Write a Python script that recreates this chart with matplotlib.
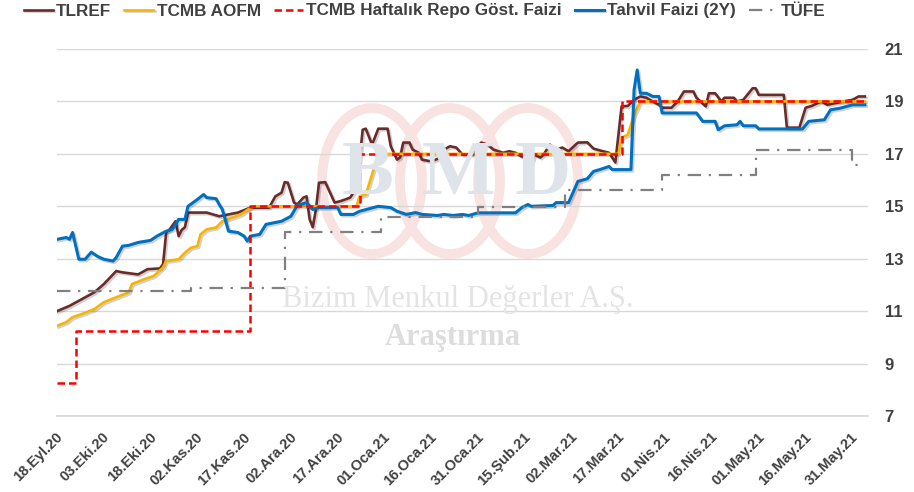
import pandas as pd
import matplotlib
matplotlib.use("Agg")
import matplotlib.pyplot as plt
import matplotlib.patheffects as pe
import matplotlib.transforms as mtransforms
from matplotlib.patches import Ellipse

plt.rcParams['font.family'] = ['Liberation Sans', 'DejaVu Sans']

# --- veriler ---
tlref = [
    ("2020-09-18", 11.0), ("2020-09-22", 11.2), ("2020-09-26", 11.46), ("2020-09-30", 11.72),
    ("2020-10-03", 12.03), ("2020-10-07", 12.53), ("2020-10-09", 12.48), ("2020-10-14", 12.4),
    ("2020-10-17", 12.6), ("2020-10-21", 12.63), ("2020-10-22", 12.79), ("2020-10-23", 14.0),
    ("2020-10-24", 14.1), ("2020-10-26", 14.43), ("2020-10-27", 13.86), ("2020-10-28", 14.1),
    ("2020-10-29", 14.2), ("2020-10-30", 14.76), ("2020-11-05", 14.76), ("2020-11-09", 14.62),
    ("2020-11-15", 14.76), ("2020-11-19", 14.95), ("2020-11-25", 14.95), ("2020-11-27", 15.38),
    ("2020-11-29", 15.52), ("2020-11-30", 15.92), ("2020-12-01", 15.9), ("2020-12-03", 15.14),
    ("2020-12-04", 15.07), ("2020-12-06", 15.33), ("2020-12-07", 15.38), ("2020-12-08", 14.5),
    ("2020-12-09", 14.2), ("2020-12-10", 14.88), ("2020-12-11", 15.9), ("2020-12-13", 15.92),
    ("2020-12-16", 15.14), ("2020-12-18", 15.2), ("2020-12-21", 15.33), ("2020-12-22", 15.52),
    ("2020-12-23", 15.64), ("2020-12-25", 17.92), ("2020-12-26", 17.96), ("2020-12-28", 17.35),
    ("2020-12-30", 17.96), ("2021-01-02", 17.96), ("2021-01-03", 17.29), ("2021-01-05", 16.78),
    ("2021-01-06", 16.86), ("2021-01-07", 17.43), ("2021-01-09", 17.43), ("2021-01-10", 17.16),
    ("2021-01-12", 17.04), ("2021-01-13", 16.78), ("2021-01-16", 16.71), ("2021-01-19", 16.86),
    ("2021-01-20", 17.16), ("2021-01-22", 17.29), ("2021-01-24", 17.24), ("2021-01-26", 16.97),
    ("2021-01-29", 16.97), ("2021-02-01", 17.43), ("2021-02-03", 17.35), ("2021-02-05", 17.16),
    ("2021-02-08", 17.04), ("2021-02-10", 17.1), ("2021-02-12", 17.04), ("2021-02-14", 16.9),
    ("2021-02-16", 16.78), ("2021-02-17", 16.59), ("2021-02-18", 16.97), ("2021-02-20", 16.86),
    ("2021-02-21", 16.97), ("2021-02-23", 17.35), ("2021-02-25", 17.16), ("2021-02-27", 17.24),
    ("2021-03-01", 17.1), ("2021-03-04", 17.43), ("2021-03-07", 17.44), ("2021-03-09", 17.2),
    ("2021-03-12", 17.1), ("2021-03-14", 17.04), ("2021-03-16", 16.67), ("2021-03-18", 18.81),
    ("2021-03-20", 18.83), ("2021-03-22", 19.06), ("2021-03-24", 19.19), ("2021-03-26", 19.14),
    ("2021-03-28", 19.0), ("2021-03-30", 18.87), ("2021-03-31", 18.76), ("2021-04-03", 18.76),
    ("2021-04-05", 19.0), ("2021-04-07", 19.38), ("2021-04-10", 19.38), ("2021-04-11", 19.14),
    ("2021-04-14", 18.81), ("2021-04-15", 19.31), ("2021-04-17", 19.31), ("2021-04-19", 19.0),
    ("2021-04-20", 19.14), ("2021-04-23", 19.14), ("2021-04-24", 19.0), ("2021-04-26", 19.06),
    ("2021-04-29", 19.5), ("2021-04-30", 19.5), ("2021-05-01", 19.25), ("2021-05-09", 19.25),
    ("2021-05-10", 18.0), ("2021-05-14", 18.0), ("2021-05-16", 18.76), ("2021-05-18", 18.83),
    ("2021-05-21", 19.0), ("2021-05-23", 18.87), ("2021-05-28", 19.0), ("2021-05-31", 19.06),
    ("2021-06-02", 19.19), ("2021-06-04", 19.19),
]

aofm = [
    ("2020-09-18", 10.44), ("2020-09-21", 10.58), ("2020-09-23", 10.77), ("2020-09-26", 10.89),
    ("2020-09-30", 11.08), ("2020-10-03", 11.34), ("2020-10-07", 11.53), ("2020-10-11", 11.72),
    ("2020-10-12", 12.03), ("2020-10-16", 12.22), ("2020-10-19", 12.34), ("2020-10-22", 12.67),
    ("2020-10-23", 12.91), ("2020-10-27", 12.98), ("2020-10-29", 13.23), ("2020-10-31", 13.42),
    ("2020-11-02", 13.48), ("2020-11-03", 13.93), ("2020-11-05", 14.12), ("2020-11-08", 14.19),
    ("2020-11-10", 14.43), ("2020-11-13", 14.56), ("2020-11-16", 14.69), ("2020-11-19", 14.94),
    ("2020-11-20", 15.0), ("2020-12-23", 15.0), ("2020-12-24", 15.38), ("2020-12-26", 15.45),
    ("2020-12-28", 16.21), ("2020-12-30", 17.0), ("2021-03-17", 17.0), ("2021-03-18", 17.62),
    ("2021-03-20", 17.73), ("2021-03-22", 18.49), ("2021-03-24", 19.0), ("2021-06-04", 19.0),
]

repo = [
    ("2020-09-18", 8.25), ("2020-09-24", 10.25), ("2020-11-19", 15.0),
    ("2020-12-24", 17.0), ("2021-03-18", 19.0), ("2021-06-04", 19.0),
]

tahvil = [
    ("2020-09-18", 13.74), ("2020-09-21", 13.81), ("2020-09-22", 13.74), ("2020-09-23", 14.0),
    ("2020-09-25", 12.98), ("2020-09-27", 12.98), ("2020-09-29", 13.25), ("2020-10-01", 13.09),
    ("2020-10-03", 12.98), ("2020-10-06", 12.91), ("2020-10-07", 13.05), ("2020-10-09", 13.48),
    ("2020-10-11", 13.51), ("2020-10-14", 13.62), ("2020-10-18", 13.7), ("2020-10-20", 13.86),
    ("2020-10-23", 14.05), ("2020-10-25", 14.12), ("2020-10-27", 14.5), ("2020-10-29", 14.5),
    ("2020-10-30", 15.0), ("2020-11-02", 15.26), ("2020-11-04", 15.45), ("2020-11-05", 15.33),
    ("2020-11-08", 15.29), ("2020-11-09", 15.07), ("2020-11-10", 14.88), ("2020-11-12", 14.05),
    ("2020-11-15", 14.0), ("2020-11-17", 13.86), ("2020-11-18", 13.67), ("2020-11-19", 13.86),
    ("2020-11-22", 13.93), ("2020-11-24", 14.31), ("2020-11-29", 14.43), ("2020-12-02", 14.62),
    ("2020-12-04", 15.03), ("2020-12-07", 15.14), ("2020-12-09", 14.88), ("2020-12-11", 14.95),
    ("2020-12-17", 14.95), ("2020-12-18", 14.69), ("2020-12-22", 14.69), ("2020-12-24", 14.81),
    ("2020-12-30", 15.0), ("2021-01-03", 14.95), ("2021-01-05", 14.81), ("2021-01-08", 14.69),
    ("2021-01-11", 14.76), ("2021-01-13", 14.69), ("2021-01-18", 14.65), ("2021-01-20", 14.69),
    ("2021-01-23", 14.65), ("2021-01-26", 14.69), ("2021-01-28", 14.65), ("2021-01-31", 14.75),
    ("2021-02-12", 14.75), ("2021-02-14", 14.95), ("2021-02-16", 15.07), ("2021-02-17", 15.0),
    ("2021-02-24", 15.03), ("2021-02-25", 15.14), ("2021-03-01", 15.14), ("2021-03-04", 15.95),
    ("2021-03-07", 16.05), ("2021-03-09", 16.33), ("2021-03-11", 16.4), ("2021-03-14", 16.52),
    ("2021-03-15", 16.4), ("2021-03-21", 16.4), ("2021-03-22", 19.44), ("2021-03-23", 20.2),
    ("2021-03-24", 19.31), ("2021-03-26", 19.31), ("2021-03-28", 19.19), ("2021-03-30", 19.19),
    ("2021-03-31", 18.56), ("2021-04-11", 18.56), ("2021-04-13", 18.24), ("2021-04-17", 18.24),
    ("2021-04-18", 17.92), ("2021-04-20", 18.07), ("2021-04-24", 18.11), ("2021-04-25", 18.24),
    ("2021-04-26", 18.07), ("2021-04-30", 18.07), ("2021-05-01", 17.95), ("2021-05-15", 17.95),
    ("2021-05-17", 18.24), ("2021-05-22", 18.3), ("2021-05-24", 18.68), ("2021-05-27", 18.74),
    ("2021-05-31", 18.87), ("2021-06-04", 18.87),
]

tufe = [
    ("2020-09-18", 11.77), ("2020-10-31", 11.89), ("2020-11-30", 14.03), ("2020-12-31", 14.60),
    ("2021-01-31", 14.97), ("2021-02-28", 15.61), ("2021-03-31", 16.19), ("2021-04-30", 17.14),
    ("2021-05-31", 16.59), ("2021-06-04", 16.59),
]

tick_dates = pd.date_range("2020-09-18", "2021-05-31", freq="15D")
tick_labels = ["18.Eyl.20", "03.Eki.20", "18.Eki.20", "02.Kas.20", "17.Kas.20", "02.Ara.20",
               "17.Ara.20", "01.Oca.21", "16.Oca.21", "31.Oca.21", "15.Şub.21", "02.Mar.21",
               "17.Mar.21", "01.Nis.21", "16.Nis.21", "01.May.21", "16.May.21", "31.May.21"]
y_ticks = [7, 9, 11, 13, 15, 17, 19, 21]


def seri(pairs):
    d = pd.to_datetime([p[0] for p in pairs])
    v = [p[1] for p in pairs]
    return d, v


fig = plt.figure(figsize=(9.14, 4.92), dpi=100)
ax = fig.add_axes([57 / 914, 1 - 416 / 492, 811 / 914, 367 / 492])

# filigran (logo + yazı)
for cx in (372, 450, 528):
    ax.add_patch(Ellipse((cx / 914, 1 - 181 / 492), 100 / 914, 146 / 492,
                         transform=fig.transFigure, fill=False,
                         edgecolor="#F8E2E2", linewidth=7, zorder=0))
for ch, cx in (("B", 368), ("M", 458), ("D", 543)):
    fig.text(cx / 914, 1 - 176 / 492, ch, fontsize=56, fontweight="bold",
             family="Liberation Serif", color="#DFE3EA", ha="center", va="center", zorder=0)
fig.text(458 / 914, 1 - 300 / 492, "Bizim Menkul Değerler A.Ş.", fontsize=22,
         family="Liberation Serif", color="#E4E4E4", ha="center", va="center", zorder=0)
fig.text(453 / 914, 1 - 337 / 492, "Araştırma", fontsize=22, fontweight="bold",
         family="Liberation Serif", color="#DDDDDD", ha="center", va="center", zorder=0)
ax.patch.set_alpha(0)

golge = [pe.SimpleLineShadow(offset=(1.2, -1.2), alpha=0.18), pe.Normal()]

d, v = seri(tlref)
ax.plot(d, v, color="#6B2B2B", lw=1.9, label="TLREF", path_effects=golge, zorder=3)
d, v = seri(aofm)
ax.plot(d, v, color="#F7B500", lw=1.9, label="TCMB AOFM", path_effects=golge, zorder=3)
d, v = seri(repo)
ax.plot(d, v, color="#FF0000", lw=1.8, ls=(0, (3, 1.6)), drawstyle="steps-post",
        label="TCMB Haftalık Repo Göst. Faizi", zorder=4)
d, v = seri(tahvil)
ax.plot(d, v, color="#0070C0", lw=2.2, label="Tahvil Faizi (2Y)", path_effects=golge, zorder=3)
d, v = seri(tufe)
ax.plot(d, v, color="#808080", lw=1.6, ls=(0, (6, 3.5, 1, 3.5)), drawstyle="steps-post",
        label="TÜFE", zorder=4)

ax.set_xlim(pd.Timestamp("2020-09-18"), pd.Timestamp("2021-06-05"))
ax.set_ylim(7, 21)
ax.set_yticks(y_ticks)
ax.yaxis.tick_right()
ax.grid(axis="y", color="#D9D9D9", lw=1)
ax.axhline(7, color="#D9D9D9", lw=1.3, clip_on=False, zorder=1)
ax.set_axisbelow(True)
for s in ax.spines.values():
    s.set_visible(False)
ax.tick_params(axis="y", length=0, pad=12, labelsize=12, labelcolor="#404040")
for lab in ax.get_yticklabels():
    lab.set_fontweight("bold")

ax.set_xticks(tick_dates)
ax.set_xticklabels(tick_labels, rotation=45, ha="right", va="top",
                   rotation_mode="anchor", fontsize=10.5, fontweight="bold", color="#404040")
ax.tick_params(axis="x", length=0, pad=10)
kay = mtransforms.ScaledTranslation(-1 / 72, 0, fig.dpi_scale_trans)
for lab in ax.get_xticklabels():
    lab.set_transform(lab.get_transform() + kay)

leg = fig.legend(loc="center left", bbox_to_anchor=(0.026, 1 - 11 / 492), ncol=5, frameon=False,
                 prop={"size": 12.3, "weight": "bold"}, handlelength=1.7, handletextpad=0.2,
                 columnspacing=0.75, borderaxespad=0, borderpad=0)
for t in leg.get_texts():
    t.set_color("#404040")

fig.savefig("out.png", dpi=100)
